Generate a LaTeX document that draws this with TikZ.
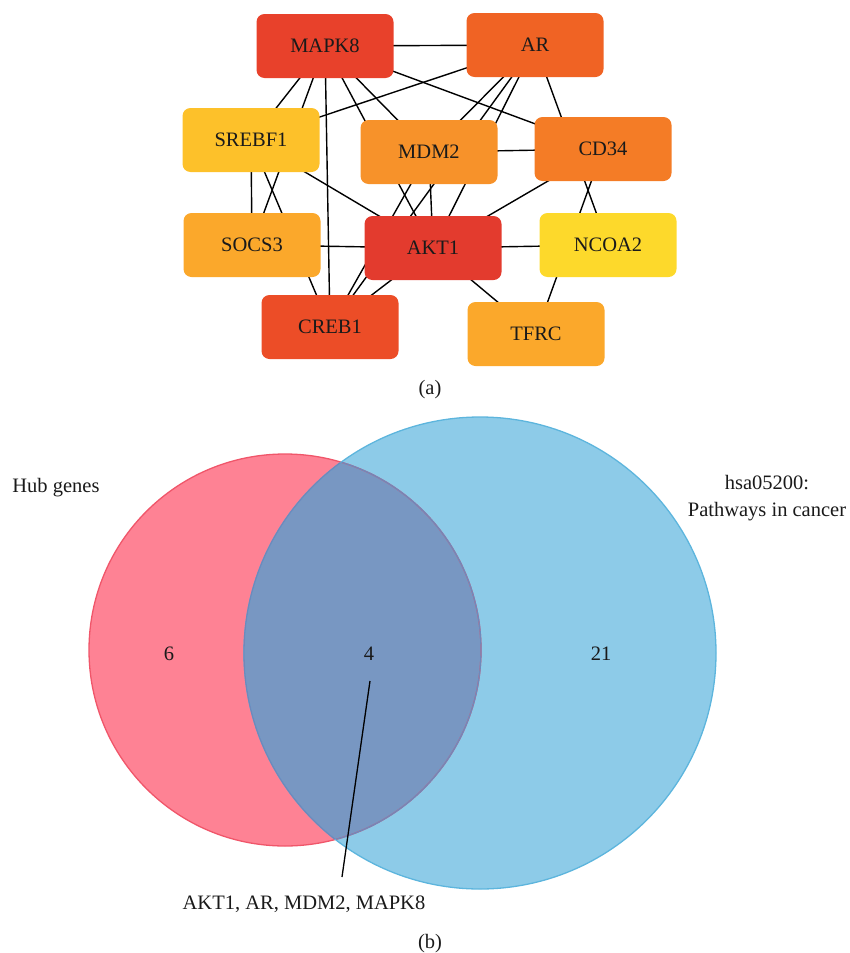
\documentclass[tikz,border=0pt]{standalone}
\usepackage{fontspec}
\setmainfont{Liberation Serif}
\usetikzlibrary{backgrounds}
\definecolor{txt}{HTML}{1A1A1A}
\definecolor{cMAPK}{HTML}{E8412B}
\definecolor{cAR}{HTML}{F06324}
\definecolor{cSREBF}{HTML}{FDC12A}
\definecolor{cMDM}{HTML}{F7922A}
\definecolor{cCD}{HTML}{F47C26}
\definecolor{cSOCS}{HTML}{FBA82B}
\definecolor{cAKT}{HTML}{E33B2E}
\definecolor{cNCOA}{HTML}{FDD92B}
\definecolor{cCREB}{HTML}{EC4D27}
\definecolor{cTFRC}{HTML}{FBA82B}
\definecolor{pinkfill}{HTML}{FE8294}
\definecolor{pinkline}{HTML}{F0566A}
\definecolor{bluefill}{HTML}{8DCBE8}
\definecolor{blueline}{HTML}{5DB5DD}
\definecolor{overfill}{HTML}{7897C2}
\definecolor{overline}{HTML}{7088BA}
\begin{document}
\begin{tikzpicture}[x=1pt,y=-1pt,
  gene/.style={rounded corners=8pt, minimum width=137pt, minimum height=64pt,
    inner sep=0pt, text=txt, font=\fontsize{20.5}{24}\selectfont},
  link/.style={line width=1.4pt, black},
  lbl/.style={text=txt, font=\fontsize{20.5}{27}\selectfont, inner sep=0pt},
  leader/.style={line width=1.3pt, black}]
\useasboundingbox (0,0) rectangle (850,953);

% ---------- (a) network ----------
\node[gene, fill=cMAPK]  (MAPK8)  at (325,46)  {MAPK8};
\node[gene, fill=cAR]    (AR)     at (535,45)  {AR};
\node[gene, fill=cSREBF] (SREBF1) at (251,140) {SREBF1};
\node[gene, fill=cMDM]   (MDM2)   at (429,152) {MDM2};
\node[gene, fill=cCD]    (CD34)   at (603,149) {CD34};
\node[gene, fill=cSOCS]  (SOCS3)  at (252,245) {SOCS3};
\node[gene, fill=cAKT]   (AKT1)   at (433,248) {AKT1};
\node[gene, fill=cNCOA]  (NCOA2)  at (608,245) {NCOA2};
\node[gene, fill=cCREB]  (CREB1)  at (330,327) {CREB1};
\node[gene, fill=cTFRC]  (TFRC)   at (536,334) {TFRC};

\begin{scope}[on background layer]
\foreach \a/\b in {MAPK8/AR, MAPK8/SREBF1, MAPK8/SOCS3, MAPK8/CREB1, MAPK8/AKT1,
  MAPK8/MDM2, MAPK8/CD34, AR/SREBF1, AR/MDM2, AR/CREB1, AR/AKT1, AR/NCOA2,
  SREBF1/SOCS3, SREBF1/CREB1, SREBF1/AKT1, MDM2/CD34, MDM2/AKT1, MDM2/CREB1,
  CD34/AKT1, CD34/TFRC, SOCS3/AKT1, AKT1/NCOA2, AKT1/TFRC, AKT1/CREB1}
  \draw[link] (\a.center) -- (\b.center);
\end{scope}

\node[lbl] (capa) at (430,390) {(a)};

% ---------- (b) Venn ----------
\fill[pinkfill] (285,650) circle[radius=196pt];
\fill[bluefill] (480,653) circle[radius=236pt];
\begin{scope}
  \clip (285,650) circle[radius=196pt];
  \fill[overfill] (480,653) circle[radius=236pt];
\end{scope}
\draw[pinkline, line width=1.3pt] (285,650) circle[radius=196pt];
\draw[blueline, line width=1.3pt] (480,653) circle[radius=236pt];
\begin{scope}
  \clip (480,653) circle[radius=235.4pt];
  \draw[overline, line width=1.3pt] (285,650) circle[radius=196pt];
\end{scope}
\begin{scope}
  \clip (285,650) circle[radius=195.4pt];
  \draw[overline, line width=1.3pt] (480,653) circle[radius=236pt];
\end{scope}

\node[lbl] (hub) at (56,488) {Hub genes};
\node[lbl, align=center] (hsa) at (767,498.5) {hsa05200:\\Pathways in cancer};
\node[lbl] (n6) at (169,654) {6};
\node[lbl] (n4) at (369,654) {4};
\node[lbl] (n21) at (601,654) {21};
\coordinate (lt) at (370,681);
\coordinate (lb) at (342,877);
\draw[leader] (lt) -- (lb);
\node[lbl] (genes) at (304,904) {AKT1, AR, MDM2, MAPK8};
\node[lbl] (capb) at (430,944) {(b)};
\end{tikzpicture}
\end{document}
